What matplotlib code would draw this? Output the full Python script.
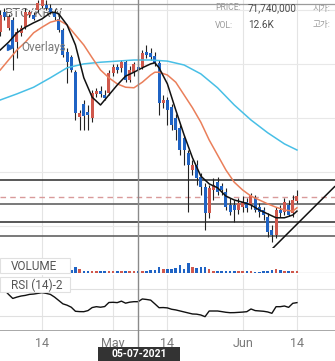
"""
BTC/KRW 일봉 차트 (2021-04-04 ~ 2021-06-14)
- 캔들 + 이동평균 3개 + 사용자 수평선/추세선
- 거래량, RSI(14) 보조 차트
"""
import matplotlib
matplotlib.use("Agg")
import matplotlib.pyplot as plt
import matplotlib.dates as mdates
from matplotlib.patches import Rectangle
import numpy as np
import pandas as pd

plt.rcParams['font.family'] = ['Roboto', 'Noto Sans CJK KR', 'DejaVu Sans']

W, H = 335, 361

# 일봉 데이터 (백만 원)
dates = pd.date_range("2021-04-04", "2021-06-14", freq="D")
opens = [76.2, 79.8, 77.0, 78.4, 74.4, 76.1, 77.1, 79.3, 79.3, 80.2,
         80.9, 81.1, 80.6, 79.8, 78.6, 76.6, 72.6, 71.7, 69.0, 60.9,
         63.3, 61.8, 60.8, 65.1, 65.6, 64.9, 65.3, 68.9, 69.9, 69.8,
         70.8, 67.6, 69.0, 69.9, 69.9, 72.6, 72.5, 71.9, 70.7, 63.5,
         64.0, 62.7, 60.8, 59.0, 57.2, 54.5, 51.4, 52.3, 50.1, 48.3,
         43.7, 47.8, 49.2, 48.5, 47.4, 45.1, 45.1, 44.2, 44.7, 45.6,
         45.1, 46.4, 44.7, 44.2, 42.9, 40.6, 39.7, 44.2, 43.8, 45.1,
         43.7, 45.8]
highs = [80.2, 80.6, 79.5, 78.9, 77.0, 77.5, 80.6, 80.2, 79.8, 82.0,
         82.9, 82.0, 81.3, 80.4, 79.1, 77.0, 73.4, 72.1, 69.4, 62.2,
         64.0, 63.1, 65.8, 66.2, 66.5, 65.8, 69.4, 70.5, 70.5, 71.2,
         71.2, 70.1, 70.8, 72.1, 73.0, 73.9, 73.4, 72.6, 71.2, 64.9,
         64.5, 63.3, 61.5, 59.5, 57.7, 55.0, 53.2, 53.2, 50.9, 49.1,
         48.7, 50.0, 50.1, 49.1, 48.2, 46.4, 46.0, 46.4, 46.7, 46.4,
         47.3, 46.9, 45.5, 44.7, 43.7, 41.5, 44.7, 45.1, 46.4, 46.0,
         46.9, 47.8]
lows = [75.5, 78.4, 76.6, 69.4, 71.6, 75.5, 76.8, 78.9, 78.4, 79.8,
        80.6, 80.2, 79.5, 78.4, 76.2, 71.7, 67.1, 69.0, 60.4, 58.6,
        58.6, 58.6, 60.0, 64.5, 64.5, 64.0, 64.9, 68.3, 68.9, 69.0,
        67.2, 67.2, 68.3, 69.0, 69.6, 71.6, 71.2, 70.1, 61.3, 62.6,
        59.5, 58.6, 56.8, 54.1, 52.3, 43.8, 50.5, 48.7, 46.9, 40.6,
        42.8, 46.0, 46.9, 46.9, 44.2, 43.3, 42.0, 43.5, 43.8, 43.8,
        44.4, 43.8, 42.9, 42.4, 39.3, 38.4, 39.2, 42.9, 43.3, 43.1,
        42.9, 45.5]
closes = [79.3, 78.9, 78.9, 73.5, 76.2, 77.0, 79.8, 79.8, 78.6, 81.5,
          82.4, 80.6, 79.8, 78.9, 76.6, 72.1, 70.8, 69.4, 61.7, 61.7,
          61.1, 61.3, 65.3, 65.6, 65.1, 64.4, 68.9, 69.9, 69.4, 70.8,
          67.6, 69.4, 70.5, 69.4, 72.5, 72.1, 71.7, 70.7, 63.5, 64.0,
          62.2, 59.5, 58.6, 55.0, 55.0, 52.3, 52.3, 50.0, 48.3, 43.7,
          48.2, 48.7, 47.4, 47.8, 44.7, 43.8, 44.2, 45.5, 45.6, 44.6,
          46.9, 44.2, 43.8, 43.3, 40.2, 39.7, 44.2, 43.7, 45.6, 43.3,
          46.0, 46.7]
# 거래량 (K BTC)
volumes = [9.5, 9.5, 25, 12.6, 9.5, 12.6, 9.5, 9.5, 12.6, 9.5,
           9.5, 12.6, 12.6, 15.8, 19, 19, 12.6, 19, 38, 25,
           9.5, 9.5, 12.6, 9.5, 9.5, 9.5, 12.6, 9.5, 9.5, 9.5,
           12.6, 12.6, 9.5, 12.6, 12.6, 12.6, 15.8, 19, 38, 25,
           25, 25, 32, 50, 25, 63, 38, 32, 35, 38,
           25, 12.6, 12.6, 9.5, 12.6, 9.5, 12.6, 9.5, 9.5, 9.5,
           9.5, 7.6, 6.3, 9.5, 12.6, 19, 25, 19, 12.6, 9.5,
           12.6, 9.5]
# RSI (14)
rsi = [66, 68.5, 62, 56, 58, 59.6, 60.5, 62, 62.5, 63.5,
       64.6, 63.5, 62, 58, 53, 48, 46, 43, 37, 36.5,
       36.4, 38, 42.5, 43.8, 43, 44, 50, 50.3, 49.8, 52,
       49, 50.5, 51.2, 51.2, 55.2, 54.5, 53.5, 48, 42.3, 42.5,
       42, 40, 39, 37.5, 36, 34.5, 33, 32.7, 31.5, 29,
       37.4, 37.4, 37.4, 36.5, 35.5, 34.9, 35, 35.4, 35.8, 36.4,
       40.4, 38, 37.5, 37, 36, 34, 43.8, 43.8, 44.8, 42.8,
       48.8, 49.8]

# 이동평균선
ma_short_days = ["04-04", "04-06", "04-08", "04-10", "04-12", "04-14", "04-16", "04-17",
                 "04-18", "04-20", "04-22", "04-24", "04-26", "04-28", "04-30", "05-02",
                 "05-04", "05-06", "05-08", "05-10", "05-11", "05-12", "05-14", "05-16",
                 "05-18", "05-20", "05-22", "05-24", "05-26", "05-28", "05-30", "06-01",
                 "06-03", "06-05", "06-07", "06-09", "06-11", "06-13", "06-14"]
ma_short = [73.0, 74.4, 76.1, 77.1, 77.9, 78.6, 79.7, 79.8,
            79.5, 77.5, 73.9, 68.0, 64.5, 63.1, 64.9, 66.7,
            68.3, 69.0, 69.8, 70.5, 70.7, 69.8, 66.9, 62.2,
            57.7, 53.6, 50.3, 48.9, 48.2, 46.7, 46.0, 45.6,
            45.1, 44.2, 43.5, 42.8, 42.8, 43.3, 44.0]
ma_mid_days = ["04-04", "04-06", "04-08", "04-10", "04-12", "04-14", "04-16", "04-18",
               "04-20", "04-22", "04-24", "04-26", "04-28", "04-30", "05-02", "05-04",
               "05-06", "05-08", "05-10", "05-11", "05-12", "05-14", "05-16", "05-18",
               "05-20", "05-22", "05-24", "05-26", "05-28", "05-30", "06-01", "06-03",
               "06-05", "06-07", "06-09", "06-11", "06-13", "06-14"]
ma_mid = [69.4, 71.2, 73.0, 74.4, 76.1, 77.1, 78.0, 78.4,
          77.5, 75.7, 73.9, 71.6, 69.4, 68.0, 66.9, 66.3,
          66.2, 67.2, 68.5, 69.0, 69.0, 68.5, 67.2, 64.9,
          62.6, 60.0, 56.8, 54.1, 51.4, 49.2, 47.8, 46.7,
          46.0, 45.3, 44.7, 44.2, 44.0, 44.6]
ma_long_days = ["04-04", "04-08", "04-12", "04-16", "04-20", "04-24", "04-28", "05-02",
                "05-06", "05-10", "05-14", "05-18", "05-22", "05-26", "05-30", "06-03",
                "06-07", "06-11", "06-14"]
ma_long = [64.0, 65.1, 66.3, 68.0, 69.8, 70.5, 70.8, 71.0,
           71.2, 71.2, 71.0, 70.3, 68.7, 66.2, 63.1, 60.4,
           58.1, 56.1, 55.0]

# 사용자 수평선 / 추세선
level_lines = [49.6, 45.2, 42.1, 39.6]
level_dashed = 46.6
trend_days = ["06-07", "06-23"]
trend_prices = [36.4, 48.4]

tick_days = ["04-14", "05-01", "05-14", "06-01", "06-14"]
tick_labels = ["14", "May", "14", "Jun", "14"]
grid_prices = [80.2, 70.5, 60.8, 51.0, 41.3]
cursor_day = "05-07"
cursor_price = 81.2

UP, DOWN = "#d0584c", "#1f63c4"


def to_dates(days):
    return pd.to_datetime(["2021-" + d for d in days])


def px_axes(fig, top, bottom):
    return fig.add_axes([0, 1 - bottom / H, 1, (bottom - top) / H])


fig = plt.figure(figsize=(W / 100, H / 100), dpi=100)
ax = px_axes(fig, 0, 250)
axv = px_axes(fig, 248, 273)
axr = px_axes(fig, 275, 331)

x = mdates.date2num(dates)
x0 = mdates.date2num(pd.Timestamp("2021-04-14"))
xlim = (x0 - 10.05, x0 + 70.1)
tick_x = mdates.date2num(to_dates(tick_days))

for a in (ax, axv, axr):
    a.set_xlim(*xlim)
    for s in a.spines.values():
        s.set_visible(False)
    a.set_xticks(tick_x)
    a.grid(axis='x', color='#e4e4e4', lw=0.8)
    a.tick_params(length=0, labelleft=False, labelbottom=False)
    a.set_yticks([])

# 메인 차트
o, h, l, c = map(np.array, (opens, highs, lows, closes))
colors = np.where(c >= o, UP, DOWN)
ax.set_ylim(37, 82)
ax.set_yticks(grid_prices)
ax.grid(axis='y', color='#e8e8e8', lw=0.8)
ax.vlines(x, l, h, color='#222222', lw=0.8, zorder=3)
ax.bar(x, np.maximum(np.abs(c - o), 0.15), bottom=np.minimum(o, c), width=0.72,
       color=colors, zorder=4)

ax.plot(to_dates(ma_long_days), ma_long, color='#48bfe6', lw=1.1, zorder=5)
ax.plot(to_dates(ma_mid_days), ma_mid, color='#ea7f5a', lw=1.1, zorder=5)
ax.plot(to_dates(ma_short_days), ma_short, color='#111111', lw=1.1, zorder=6)

for lv, col in zip(level_lines, ['#2a2a2a', '#555555', '#2a2a2a', '#555555']):
    ax.axhline(lv, color=col, lw=1.1, zorder=2)
ax.axhline(level_dashed, color='#d99a9a', lw=1.0, ls=(0, (4, 3)), zorder=2)
ax.plot(to_dates(trend_days), trend_prices, color='#111111', lw=1.1, zorder=6)
ax.axhline(cursor_price, color='#9a9a9a', lw=0.9, zorder=2)

# 거래량
axv.set_ylim(0, 157)
axv.bar(x, volumes, width=0.62, color=colors, zorder=3)
axv.axhline(0, color='#bdbdbd', lw=0.9)

# RSI
axr.set_ylim(7.8, 90.7)
axr.set_yticks([70, 30])
axr.grid(axis='y', color='#e0e0e0', lw=0.8)
axr.plot(x, rsi, color='#111111', lw=1.0, zorder=3)
axr.axhline(7.8, color='#9a9a9a', lw=1.2)
axr.tick_params(labelbottom=True, pad=4, labelsize=9, labelcolor='#7a7a7a')
axr.set_xticklabels(tick_labels)

# 커서 세로선
cx = mdates.date2num(pd.Timestamp("2021-" + cursor_day))
cx_fig = (cx - xlim[0]) / (xlim[1] - xlim[0])
fig.add_artist(plt.Line2D([cx_fig, cx_fig], [1 - 347 / H, 1], color='#8a8a8a', lw=1.0,
                          transform=fig.transFigure, zorder=10))

# 텍스트
ax.text(5 / W, 1 - 13 / H, "BTC/KRW", transform=fig.transFigure, fontsize=9.5,
        color='#6a6a6a', va='center', zorder=1)
ax.text(21 / W, 1 - 47 / H, "Overlays", transform=fig.transFigure, fontsize=8.5,
        color='#7a7a7a', va='center', zorder=7)
ax.plot([9.5 / W], [1 - 46.5 / H], marker='>', ms=5, color='#1f63c4',
        transform=fig.transFigure, zorder=7)

info = [("PRICE:", 215, 8), ("71,740,000", 248, 8), ("시가:", 313, 8),
        ("VOL:", 215, 25), ("12.6K", 248, 25), ("고가:", 313, 25)]
for i, (t, tx, ty) in enumerate(info):
    big = i % 3 == 1
    fig.text(tx / W, 1 - ty / H, t, fontsize=7.2 if big else 6.2,
             color='#4a4a4a' if big else '#9a9a9a', va='center')

for label, top in (("VOLUME", 258), ("RSI (14)-2", 277)):
    fig.add_artist(Rectangle((0, 1 - (top + 15) / H), 70 / W, 15 / H, transform=fig.transFigure,
                             facecolor='white', edgecolor='#e0e0e0', lw=0.8, zorder=8))
    fig.text(11 / W, 1 - (top + 8) / H, label, fontsize=8.5, color='#555555',
             va='center', zorder=9)

# 날짜 배지
fig.add_artist(Rectangle((98 / W, 0), 82 / W, 14 / H, transform=fig.transFigure,
                         facecolor='#333333', edgecolor='none', zorder=11))
fig.text(139 / W, 7 / H, "05-07-2021", fontsize=7.5, color='white', fontweight='bold',
         ha='center', va='center', zorder=12)

fig.savefig("out.png", dpi=100)
